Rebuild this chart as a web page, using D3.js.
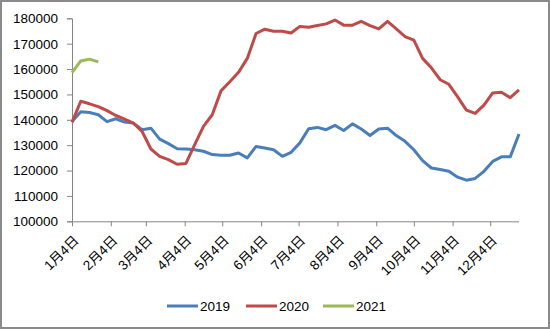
<!DOCTYPE html>
<html>
<head>
<meta charset="utf-8">
<script src="https://cdn.jsdelivr.net/npm/d3@7"></script>
<style>
  html, body { margin: 0; padding: 0; background: #fff; }
  svg text { font-family: "Liberation Sans", Arial, "Noto Sans CJK SC", sans-serif; fill: #000; }
</style>
</head>
<body>
<svg id="chart" width="550" height="329"></svg>
<script>
// Weekly observations, first week starting on 4 January
const weekCount = 52;
const seriesNames = ["2019", "2020", "2021"];
const values2019 = [139300, 143200, 142900, 142000, 139300, 140400, 139100, 138700, 136100, 136700,
  132400, 130600, 128600, 128500, 128200, 127600, 126300, 126000, 126000, 126900,
  125000, 129500, 128900, 128200, 125600, 127200, 130900, 136500, 137000, 136100,
  137800, 135800, 138400, 136400, 133800, 136400, 136700, 133800, 131500, 128200,
  123900, 121000, 120400, 119700, 117400, 116200, 116900, 119700, 123600, 125400,
  125400, 134400];
const values2020 = [139000, 147300, 146300, 145200, 143600, 141700, 140300, 138700, 135400, 128500,
  125600, 124300, 122500, 122800, 130200, 137400, 142000, 151400, 155000, 158700,
  164200, 174000, 175700, 174900, 174900, 174200, 176800, 176500, 177200, 177800,
  179300, 177300, 177300, 178800, 177100, 175800, 178800, 175800, 172800, 171400,
  164200, 160500, 155800, 154000, 149000, 143800, 142500, 145800, 150600, 150900,
  148700, 151800];
const values2021 = [158600, 163200, 163900, 162800];
const seriesColors = ["#4a7ebb", "#be4b48", "#98b954"];

const yTicks = [100000, 110000, 120000, 130000, 140000, 150000, 160000, 170000, 180000];
const monthLabels = ["1月4日", "2月4日", "3月4日", "4月4日", "5月4日", "6月4日",
  "7月4日", "8月4日", "9月4日", "10月4日", "11月4日", "12月4日"];

const svg = d3.select("#chart");
const W = 550, H = 329;
const plot = { left: 72, right: 519, top: 18.3, bottom: 221.3 };

// frame around the whole chart
svg.append("rect")
  .attr("x", 1).attr("y", 1).attr("width", W - 2).attr("height", H - 2)
  .attr("fill", "#fff").attr("stroke", "#8a8a8a").attr("stroke-width", 2);

const start = new Date(2019, 0, 4);
const weekDates = d3.range(weekCount).map(i => d3.timeDay.offset(start, 7 * i));
const tickDates = monthLabels.map((_, m) => new Date(2019, m, 4));

const x = d3.scaleTime().domain([weekDates[0], weekDates[weekCount - 1]]).range([plot.left, plot.right]);
const y = d3.scaleLinear().domain([100000, 180000]).range([plot.bottom, plot.top]);

// y axis
const yAxis = svg.append("g")
  .attr("transform", `translate(${plot.left},0)`)
  .call(d3.axisLeft(y).tickValues(yTicks).tickFormat(d3.format("d")).tickSize(5).tickPadding(9));
yAxis.selectAll("path, line").attr("stroke", "#868686");
yAxis.selectAll("text").style("font-size", "13.5px");

// x axis with rotated month labels
const xAxis = svg.append("g")
  .attr("transform", `translate(0,${plot.bottom})`)
  .call(d3.axisBottom(x).tickValues(tickDates).tickFormat((d, i) => monthLabels[i]).tickSize(5).tickSizeOuter(0));
xAxis.select(".domain").attr("d", `M${plot.left},0.5H${plot.right}`);
xAxis.selectAll("path, line").attr("stroke", "#868686");
xAxis.selectAll("text")
  .style("font-size", "13.5px")
  .attr("text-anchor", "end")
  .attr("dy", null)
  .attr("y", null)
  .attr("transform", "translate(7,20) rotate(-45)");

// series lines
const line = d3.line().x((d, i) => x(weekDates[i])).y(d => y(d));
[values2019, values2020, values2021].forEach((vals, k) => {
  svg.append("path")
    .datum(vals)
    .attr("fill", "none")
    .attr("stroke", seriesColors[k])
    .attr("stroke-width", 3)
    .attr("stroke-linejoin", "round")
    .attr("d", line);
});

// legend
const legendX = [167, 246, 323];
const legend = svg.append("g");
seriesNames.forEach((name, k) => {
  legend.append("line")
    .attr("x1", legendX[k]).attr("x2", legendX[k] + 31)
    .attr("y1", 306).attr("y2", 306)
    .attr("stroke", seriesColors[k]).attr("stroke-width", 3);
  legend.append("text")
    .attr("x", legendX[k] + 33).attr("y", 311)
    .style("font-size", "13.5px")
    .text(name);
});
</script>
</body>
</html>
